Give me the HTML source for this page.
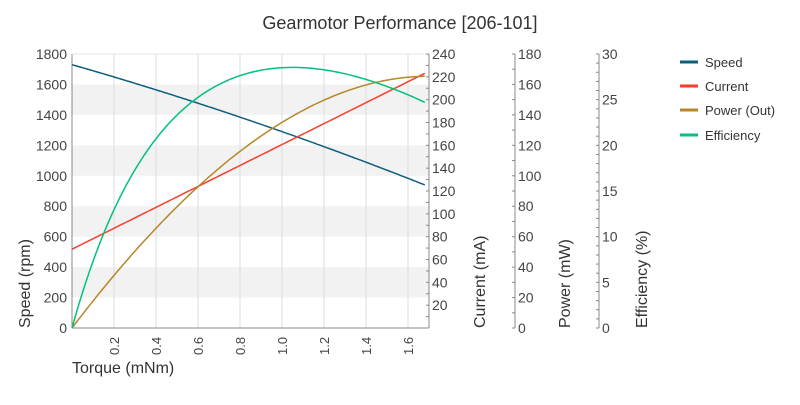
<!DOCTYPE html>
<html><head><meta charset="utf-8"><style>
body{margin:0;background:#fff;}
svg{font-family:"Liberation Sans",sans-serif;}
</style></head><body>
<svg id="s" width="800" height="400" xmlns="http://www.w3.org/2000/svg">
<rect width="800" height="400" fill="#fff"/>
<text x="400" y="29" font-size="18" fill="#333" text-anchor="middle">Gearmotor Performance [206-101]</text>
<g id="bands" fill="#f2f2f2"></g>
<g id="grid" stroke="#dcdcdc" stroke-width="1"></g>
<g id="axes" stroke="#888" stroke-width="1" fill="none"></g>
<g id="labels" font-size="13" fill="#444"></g>
<g id="curves" fill="none" stroke-width="1.5"></g>
<text transform="translate(30,328) rotate(-90)" font-size="16" fill="#333">Speed (rpm)</text>
<text transform="translate(485,328) rotate(-90)" font-size="16" fill="#333">Current (mA)</text>
<text transform="translate(570,328) rotate(-90)" font-size="16" fill="#333">Power (mW)</text>
<text transform="translate(647,328) rotate(-90)" font-size="16" fill="#333">Efficiency (%)</text>
<text x="72" y="373" font-size="16" fill="#333">Torque (mNm)</text>
<g font-size="13" fill="#333">
<line x1="680" y1="62" x2="698" y2="62" stroke="#0b5e7e" stroke-width="3"/><text x="705" y="67">Speed</text>
<line x1="680" y1="86" x2="698" y2="86" stroke="#ff3b2a" stroke-width="3"/><text x="705" y="91">Current</text>
<line x1="680" y1="110" x2="698" y2="110" stroke="#b8862a" stroke-width="3"/><text x="705" y="115">Power (Out)</text>
<line x1="680" y1="135" x2="698" y2="135" stroke="#00c27a" stroke-width="3"/><text x="705" y="140">Efficiency</text>
</g>
</svg>
<script>
const NS="http://www.w3.org/2000/svg";
function el(p,t,a,txt){const e=document.createElementNS(NS,t);for(const k in a)e.setAttribute(k,a[k]);if(txt!==undefined)e.textContent=txt;document.getElementById(p).appendChild(e);return e;}
const X0=72,XR=429,Y0=328,YT=54,H=274;
const x=T=>X0+210*T;
for(const [a,b] of [[200,400],[600,800],[1000,1200],[1400,1600]]){
 const y1=Y0-b*H/1800,y2=Y0-a*H/1800;el("bands","rect",{x:X0,y:y1,width:XR-X0,height:y2-y1});}
for(let i=1;i<=8;i++){const xx=x(i*0.2);el("grid","line",{x1:xx,y1:YT,x2:xx,y2:Y0});
 el("labels","text",{transform:`translate(${xx+5},355) rotate(-90)`},(i*0.2).toFixed(1));}
el("axes","line",{x1:X0,y1:YT,x2:X0,y2:Y0});
el("axes","line",{x1:X0,y1:Y0,x2:XR,y2:Y0});
el("axes","line",{x1:X0,y1:YT,x2:XR,y2:YT,stroke:"#e6e6e6"});
for(let v=0;v<=1800;v+=200){const y=Y0-v*H/1800;el("labels","text",{x:67,y:y+5,"text-anchor":"end","font-size":"14"},v);}
function raxis(ax,max,step,minor,skip0){
 el("axes","line",{x1:ax,y1:YT,x2:ax,y2:Y0});
 for(let v=0;v<=max+1e-9;v+=minor){const y=Y0-v*H/max;el("axes","line",{x1:ax,y1:y,x2:ax-3,y2:y});}
 for(let v=0;v<=max;v+=step){if(skip0&&v==0)continue;const y=Y0-v*H/max;el("labels","text",{x:ax+3,y:y+5,"font-size":"14"},v);}
}
raxis(XR,240,20,10,true);raxis(515,180,20,10,false);raxis(599,30,5,1,false);
const n=T=>1730-395.5*T-44.5*T*T, I=T=>69+91.7*T, P=T=>T*n(T)*2*Math.PI/60;
const E=T=>25.85*T*(3.205-T)/(T+1);
function path(f,max,col){let d="";for(let i=0;i<=168;i++){const T=1.68*i/168;d+=(i?"L":"M")+x(T).toFixed(1)+","+(Y0-f(T)*H/max).toFixed(1);}el("curves","path",{d:d,stroke:col});}
path(n,1800,"#0b5e7e");path(I,240,"#ff3b2a");path(P,180,"#b8862a");path(E,30,"#00c27a");
</script>
</body></html>
